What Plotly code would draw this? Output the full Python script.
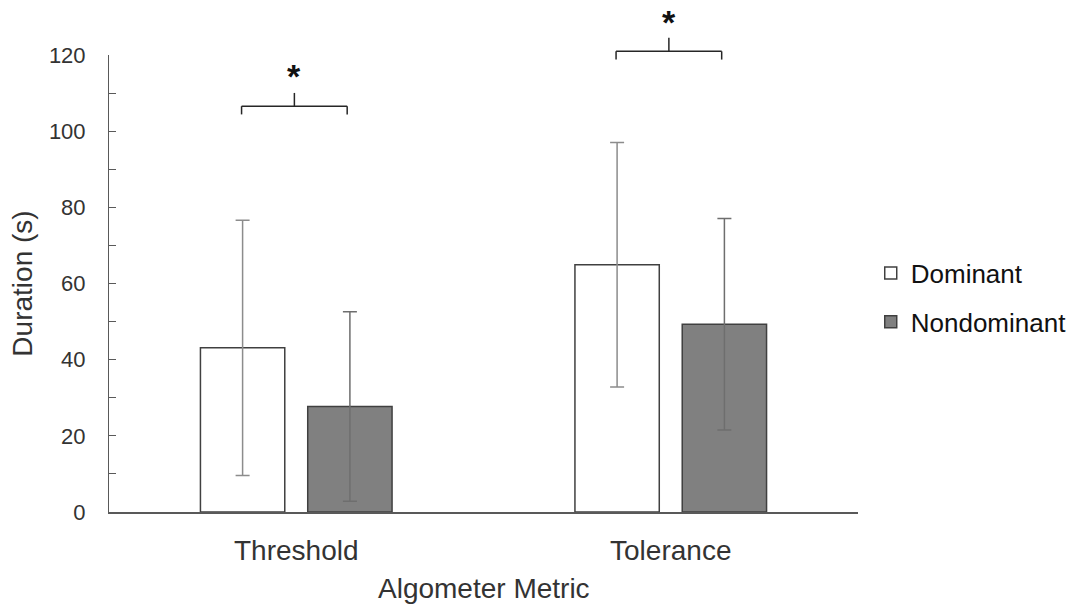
import plotly.graph_objects as go

categories = ["Threshold", "Tolerance"]
series_names = ["Dominant", "Nondominant"]
dominant_mean = [43.1, 64.9]
dominant_sd = [33.5, 32.1]
nondominant_mean = [27.7, 49.3]
nondominant_sd = [24.9, 27.8]
y_ticks = [0, 20, 40, 60, 80, 100, 120]
significance = ["*", "*"]

FONT = "Liberation Sans, Arial, sans-serif"
AXIS_COLOR = "#595959"
TEXT_COLOR = "#333333"

fig = go.Figure()
fig.add_trace(go.Bar(
    name=series_names[0], x=categories, y=dominant_mean,
    marker=dict(color="#ffffff", line=dict(color="#404040", width=1.5)),
    error_y=dict(type="data", array=dominant_sd, visible=True,
                 color="#8c8c8c", thickness=1.5, width=7),
    legendgroup="a",
))
fig.add_trace(go.Bar(
    name=series_names[1], x=categories, y=nondominant_mean,
    marker=dict(color="#808080", line=dict(color="#404040", width=1.5)),
    error_y=dict(type="data", array=nondominant_sd, visible=True,
                 color="#6e6e6e", thickness=1.5, width=7),
    legendgroup="b",
))

# significance brackets (paper y positions, category x positions)
# (category index, bracket line y, bracket end y, center tick top y, asterisk box top y)
bracket_specs = [
    (0, 0.888, 0.870, 0.917, 1.000),
    (1, 1.008, 0.990, 1.038, 1.119),
]
line_style = dict(color="#262626", width=1.5)
for (ci, yh, ye, yt, ya), mark in zip(bracket_specs, significance):
    x0, x1 = ci - 0.146, ci + 0.136
    xc = ci - 0.005
    fig.add_shape(type="line", xref="x", yref="paper", x0=x0, x1=x1, y0=yh, y1=yh, line=line_style)
    fig.add_shape(type="line", xref="x", yref="paper", x0=x0, x1=x0, y0=yh, y1=ye, line=line_style)
    fig.add_shape(type="line", xref="x", yref="paper", x0=x1, x1=x1, y0=yh, y1=ye, line=line_style)
    fig.add_shape(type="line", xref="x", yref="paper", x0=xc, x1=xc, y0=yh, y1=yt, line=line_style)
    fig.add_annotation(x=xc, y=ya, xref="x", yref="paper", text="<b>" + mark + "</b>", showarrow=False,
                       font=dict(family=FONT, size=34, color="#111111"),
                       xanchor="center", yanchor="top")

fig.add_annotation(x=0.5, y=-0.168, xref="paper", yref="paper", text="Algometer Metric",
                   showarrow=False, xanchor="center", yanchor="middle",
                   font=dict(family=FONT, size=28, color=TEXT_COLOR))

fig.update_layout(
    width=1084, height=607,
    margin=dict(l=109, r=224, t=55, b=95),
    plot_bgcolor="#ffffff", paper_bgcolor="#ffffff",
    barmode="group", bargap=0.427, bargroupgap=0.214,
    font=dict(family=FONT, color=TEXT_COLOR),
    legend=dict(x=1.017, y=0.469, xanchor="left", yanchor="middle",
                font=dict(family=FONT, size=26, color="#111111"),
                tracegroupgap=12, bgcolor="rgba(0,0,0,0)"),
    xaxis=dict(
        showline=True, linecolor=AXIS_COLOR, linewidth=1.5, ticks="",
        tickfont=dict(family=FONT, size=28, color=TEXT_COLOR),
        ticklabelstandoff=13, showgrid=False, zeroline=False,
    ),
    yaxis=dict(
        range=[0, 120], tickvals=y_ticks, showline=True, linecolor=AXIS_COLOR, linewidth=1,
        ticks="inside", ticklen=7, tickcolor=AXIS_COLOR,
        minor=dict(dtick=10, ticks="inside", ticklen=7, tickcolor=AXIS_COLOR),
        tickfont=dict(family=FONT, size=22, color=TEXT_COLOR),
        ticklabelstandoff=18, showgrid=False, zeroline=False,
        title=dict(text="Duration (s)", standoff=8,
                   font=dict(family=FONT, size=28, color=TEXT_COLOR)),
    ),
)

fig.write_html("out.html")
